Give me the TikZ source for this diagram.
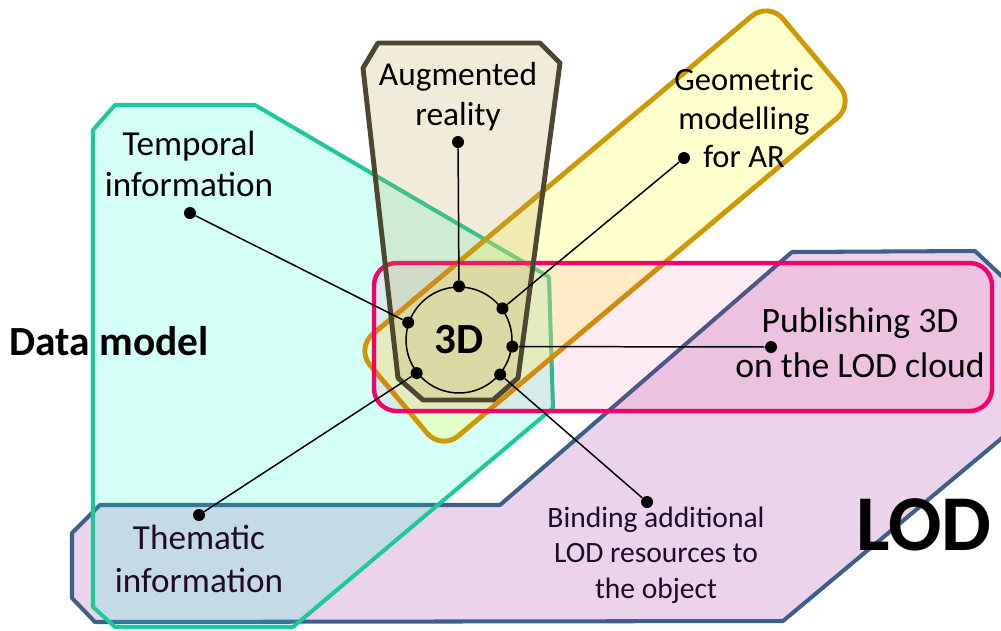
\documentclass[tikz,border=0pt]{standalone}
\usepackage{fontspec}
\setmainfont{Carlito}
\definecolor{LodLine}{HTML}{3E5F8A}
\definecolor{LodFill}{HTML}{ECD3EC}
\definecolor{DataLine}{HTML}{1DC99B}
\definecolor{DataFill}{HTML}{00FFCC}
\definecolor{GeoLine}{HTML}{CC9A06}
\definecolor{GeoFill}{HTML}{FFFF66}
\definecolor{ArLine}{HTML}{4D4631}
\definecolor{ArFill}{HTML}{B89A40}
\definecolor{PubLine}{HTML}{F5006B}
\definecolor{PubFill}{HTML}{FF0066}
\definecolor{DarkText}{HTML}{1E0A2A}

\begin{document}
\begin{tikzpicture}[x=0.02cm,y=-0.02cm,
  area/.style={line width=2.3pt,line join=round},
  dot/.style={circle,fill=black,inner sep=0pt,minimum size=0.24cm},
  link/.style={line width=0.85pt},
  txt/.style={align=center,inner sep=0pt}
]
  \useasboundingbox (0,0) rectangle (1001,630);
  \clip (0,0) rectangle (1001,630);
  % the five areas
  \draw[area,draw=LodLine,fill=LodFill] (100,505) -- (500,505) -- (792,252) -- (975,251) -- (1008,282) -- (1008,433) -- (783,621) -- (95,622) -- (72,598) -- (72,533) -- cycle;
  \draw[area,draw=DataLine,fill=DataFill,fill opacity=0.17] (93,130) -- (115,105) -- (255,105) -- (549,277) -- (553,408) -- (293,627) -- (115,627) -- (93,607) -- cycle;
  \node[area,draw=GeoLine,fill=GeoFill,fill opacity=0.33,line width=2.8pt,rounded corners=0.44cm,rotate=40,minimum width=10.78cm,minimum height=2.66cm] (geoband) at (605,226) {};
  \draw[area,draw=PubLine,fill=PubFill,fill opacity=0.08,line width=2.5pt,rounded corners=0.45cm] (374,263) rectangle (992,411);
  \draw[area,draw=ArLine,fill=ArFill,fill opacity=0.2,line width=2.8pt] (363,68) -- (378,43) -- (540,43) -- (560,63) -- (518,378) -- (493,400) -- (423,400) -- (398,378) -- cycle;

  % hub
  \node[circle,draw,line width=0.85pt,minimum size=2.12cm,inner sep=0pt,font=\fontsize{24.5}{29}\selectfont\bfseries] (hub) at (459,340) {3D};
  \node[dot] (hubAR) at (hub.90) {};
  \node[dot] (hubGeo) at (hub.36) {};
  \node[dot] (hubPub) at (hub.-7) {};
  \node[dot] (hubBind) at (hub.-40) {};
  \node[dot] (hubThem) at (hub.-142) {};
  \node[dot] (hubTemp) at (hub.161) {};

  % outer ends
  \node[dot] (arDot) at (458,142) {};
  \node[dot] (tempDot) at (190,213) {};
  \node[dot] (geoDot) at (684,158) {};
  \node[dot] (pubDot) at (771,347) {};
  \node[dot] (bindDot) at (647,502) {};
  \node[dot] (themDot) at (199,515) {};
  \draw[link] (arDot) -- (hubAR);
  \draw[link] (tempDot) -- (hubTemp);
  \draw[link] (geoDot) -- (hubGeo);
  \draw[link] (pubDot) -- (hubPub);
  \draw[link] (bindDot) -- (hubBind);
  \draw[link] (themDot) -- (hubThem);

  % texts
  \node[txt,font=\fontsize{19}{22.7}\selectfont] (arText) at (458,97) {Augmented\\reality};
  \node[txt,font=\fontsize{20}{23.8}\selectfont] (tempText) at (189,164) {Temporal\\information};
  \node[txt,font=\fontsize{18.5}{22.1}\selectfont] (geoText) at (744,118) {Geometric\\modelling\\for AR};
  \node[txt,font=\fontsize{20.3}{25.5}\selectfont] (pubText) at (860,343) {Publishing 3D\\on the LOD cloud};
  \node[txt,text=DarkText,font=\fontsize{20}{24.4}\selectfont] (themText) at (199,559) {Thematic\\information};
  \node[txt,text=DarkText,font=\fontsize{16.8}{20.1}\selectfont] (bindText) at (656,555) {Binding additional\\LOD resources to\\the object};
  \node[txt,anchor=base west,font=\fontsize{23.6}{28}\selectfont\bfseries] (dataText) at (9,355) {Data model};
  \node[txt,anchor=base west,font=\fontsize{45}{52}\selectfont\bfseries] (lodText) at (856,550) {LOD};
\end{tikzpicture}
\end{document}
